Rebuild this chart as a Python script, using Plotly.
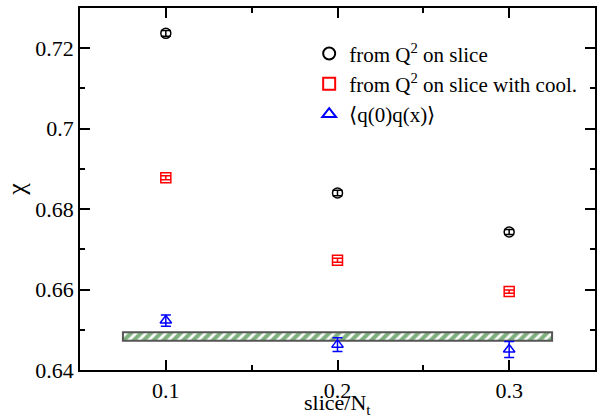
import plotly.graph_objects as go

# slice fraction of the temporal extent
slice_frac = [0.1, 0.2, 0.3]

# topological susceptibility estimates
chi_q2 = [0.7237, 0.6840, 0.6743]
err_q2 = [0.0007, 0.0007, 0.0006]

chi_q2_cool = [0.6878, 0.6673, 0.6595]
err_q2_cool = [0.0005, 0.0005, 0.0004]

chi_corr = [0.6523, 0.6463, 0.6451]
err_corr = [0.0014, 0.0017, 0.0020]

# full-volume reference band
band_x = [0.075, 0.325]
band_lo = 0.6473
band_hi = 0.6494

x_ticks = [0.1, 0.2, 0.3]
x_ticktext = ["0.1", "0.2", "0.3"]
y_ticks = [0.64, 0.66, 0.68, 0.70, 0.72]
y_ticktext = ["0.64", "0.66", "0.68", "0.7", "0.72"]
x_minor = [0.15, 0.25]
y_minor = [0.65, 0.67, 0.69, 0.71]

FONT = "Liberation Serif"

fig = go.Figure()

fig.add_trace(go.Bar(
    x=[(band_x[0] + band_x[1]) / 2],
    y=[band_hi - band_lo],
    base=[band_lo],
    width=[band_x[1] - band_x[0]],
    marker=dict(
        color="white",
        line=dict(color="#555555", width=2),
        pattern=dict(shape="/", fgcolor="#006400", bgcolor="white",
                     size=7, solidity=0.6),
    ),
    showlegend=False,
    hoverinfo="skip",
))

def series(y, err, name, symbol, color):
    return go.Scatter(
        x=slice_frac, y=y, mode="markers", name=name,
        marker=dict(symbol=symbol, size=10, color=color,
                    line=dict(color=color, width=1.5)),
        error_y=dict(type="data", array=err, visible=True,
                     color=color, thickness=1.5, width=5),
    )

fig.add_trace(series(chi_q2, err_q2, "from Q<sup>2</sup> on slice",
                     "circle-open", "black"))
fig.add_trace(series(chi_q2_cool, err_q2_cool,
                     "from Q<sup>2</sup> on slice with cool.",
                     "square-open", "red"))
fig.add_trace(series(chi_corr, err_corr, "\u27e8q(0)q(x)\u27e9",
                     "triangle-up-open", "blue"))

axis_common = dict(
    showline=True, linecolor="black", linewidth=1.5, mirror="allticks",
    ticks="inside", ticklen=10, tickwidth=1.5, tickcolor="black",
    showgrid=False, zeroline=False, automargin=False,
    tickfont=dict(family=FONT, size=22, color="black"),
)

fig.update_xaxes(
    range=[0.05, 0.35], tickmode="array", tickvals=x_ticks, ticktext=x_ticktext,
    minor=dict(tickmode="array", tickvals=x_minor, ticks="inside",
               ticklen=5, tickwidth=1.5, tickcolor="black"),
    **axis_common,
)
fig.update_yaxes(
    range=[0.64, 0.73], tickmode="array", tickvals=y_ticks, ticktext=y_ticktext,
    minor=dict(tickmode="array", tickvals=y_minor, ticks="inside",
               ticklen=5, tickwidth=1.5, tickcolor="black"),
    title=dict(text="\u03c7", font=dict(family=FONT, size=26, color="black"),
               standoff=2),
    **axis_common,
)

# x-axis title placed just below the tick labels
fig.add_annotation(
    text="slice/N<sub>t</sub>", xref="paper", yref="paper",
    x=0.5, y=-0.136, xanchor="center", yanchor="bottom", showarrow=False,
    borderpad=0, font=dict(family=FONT, size=22, color="black"),
)

fig.update_layout(
    width=600, height=420,
    margin=dict(l=80, r=5, t=8, b=50, autoexpand=False),
    plot_bgcolor="white", paper_bgcolor="white",
    barmode="overlay",
    font=dict(family=FONT),
    legend=dict(
        x=0.445, y=0.93, xanchor="left", yanchor="top",
        bgcolor="rgba(0,0,0,0)", borderwidth=0,
        font=dict(family=FONT, size=21, color="black"),
        itemsizing="constant", tracegroupgap=0,
    ),
    showlegend=True,
)

fig.write_html("out.html")
